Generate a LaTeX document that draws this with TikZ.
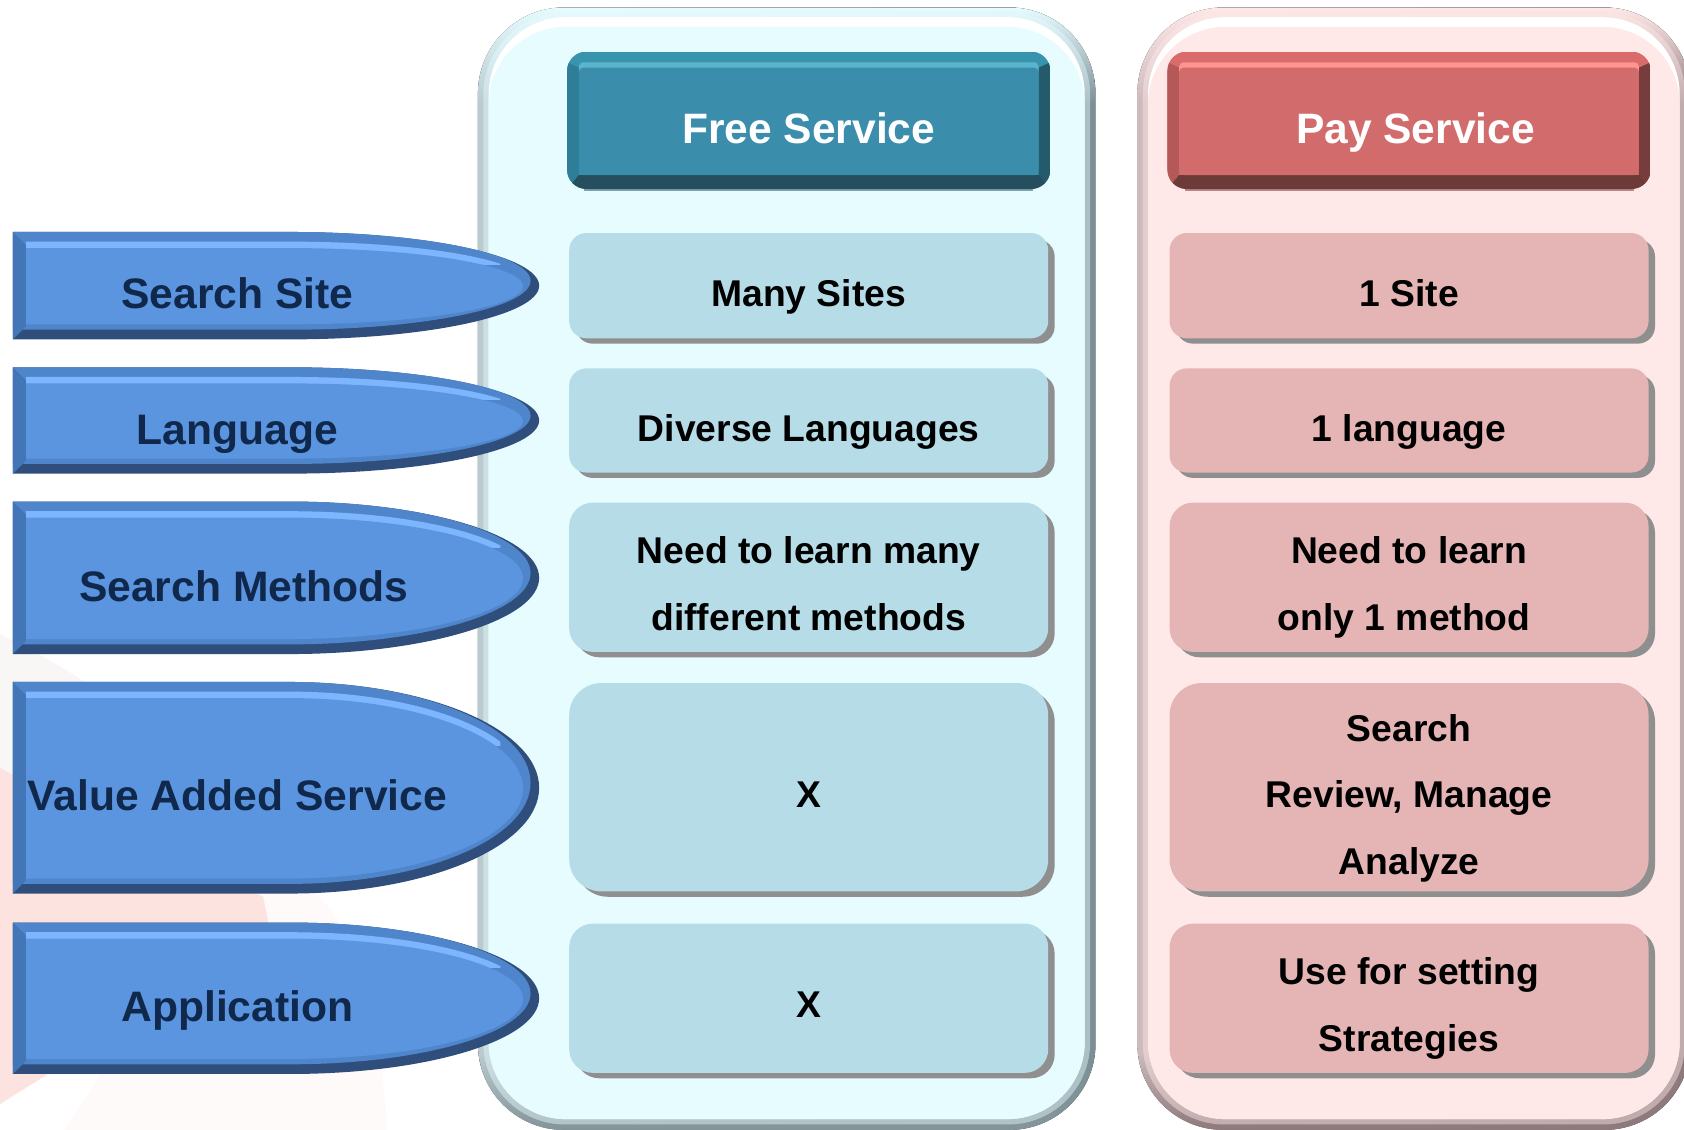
\documentclass[tikz,border=0pt]{standalone}
\usepackage{fontspec}
\setmainfont{Liberation Sans}
\usetikzlibrary{fadings}
\definecolor{bluebase}{HTML}{5B94DF}
\definecolor{bluehi}{HTML}{7DB6FF}
\definecolor{bluetop}{HTML}{4F86CB}
\definecolor{bluelow}{HTML}{2F4E7C}
\definecolor{blueleft}{HTML}{4376B6}
\definecolor{bluetext}{HTML}{10284C}
\definecolor{freefill}{HTML}{E6FCFF}
\definecolor{payfill}{HTML}{FFE8E8}
\definecolor{freerow}{HTML}{B6DCE7}
\definecolor{payrow}{HTML}{E5B5B5}
\definecolor{rowshadow}{HTML}{8F8F8F}
\definecolor{fl}{HTML}{B9CBD0}\definecolor{fr}{HTML}{7A8F96}\definecolor{fb}{HTML}{84959A}
\definecolor{pl}{HTML}{CDBABC}\definecolor{pr}{HTML}{8E7A7C}\definecolor{pb}{HTML}{8E7A7C}
\definecolor{ftop}{HTML}{3794AC}\definecolor{fhi}{HTML}{5AB4CC}\definecolor{fmain}{HTML}{3A8DAB}
\definecolor{fleft}{HTML}{2F7E98}\definecolor{fright}{HTML}{235A6C}\definecolor{flow}{HTML}{254F5E}\definecolor{fsh}{HTML}{7FA3AD}
\definecolor{ptop}{HTML}{D96B6B}\definecolor{phi}{HTML}{FF9490}\definecolor{pmain}{HTML}{D26C6C}
\definecolor{pleft}{HTML}{B55858}\definecolor{pright}{HTML}{773C3C}\definecolor{plow}{HTML}{6D3A3A}\definecolor{psh}{HTML}{B88888}
\definecolor{bgfaint}{HTML}{FDFAF9}
\definecolor{bggrey}{HTML}{F9F6F6}
\definecolor{bgpink}{HTML}{FCE3E0}
\tikzset{
  headtext/.style={font=\bfseries\fontsize{19.8}{24}\selectfont,text=white,text height=14pt,text depth=4pt,inner sep=0pt},
  rowtext/.style={font=\bfseries\fontsize{17.35}{31}\selectfont,text=black,align=center,text height=13pt,text depth=4pt,inner sep=0pt},
  tabtext/.style={font=\bfseries\fontsize{19.85}{24}\selectfont,text=bluetext,text height=14pt,text depth=4pt,inner sep=0pt},
}
% panel: x0 y0 x1 y1, edge left, edge right, edge top, edge bottom, fill
\newcommand{\panelbox}[9]{%
  \fill[left color=#5,right color=#6,rounded corners=40pt] (#1,#2) rectangle (#3,#4);
  \begin{scope}
    \clip[rounded corners=40pt] (#1,#2) rectangle (#3,#4);
    \fill[#7,path fading=south] (#1,#2) rectangle (#3,{#2+90});
    \fill[#8,path fading=north] (#1,{#4-70}) rectangle (#3,#4);
  \end{scope}
  \fill[#9,opacity=.45,rounded corners=38pt] ({#1+5},{#2+5}) rectangle ({#3-5},{#4-5});
  \fill[white,rounded corners=36pt] ({#1+10},{#2+9}) rectangle ({#3-10},{#4-10});
  \fill[#9,rounded corners=36pt] ({#1+10},{#2+18}) rectangle ({#3-10},{#4-10});
}
% header: x0, top, hi, main, left, right, low, shadow
\newcommand{\headbox}[8]{%
  \fill[#8] ({#1+16},170) rectangle ({#1+434},178);
  \begin{scope}
    \clip[rounded corners=9pt] (#1,48) rectangle ({#1+450},176);
    \fill[#2] (#1,48) rectangle ({#1+450},176);
    \fill[#5] (#1,58) -- ({#1+11},63) -- ({#1+11},164) -- (#1,176) -- cycle;
    \fill[#6] ({#1+450},58) -- ({#1+439},63) -- ({#1+439},164) -- ({#1+450},176) -- cycle;
    \fill[#7] (#1,176) -- ({#1+11},163) -- ({#1+439},163) -- ({#1+450},176) -- cycle;
    \fill[#3,rounded corners=2pt] ({#1+11},58) rectangle ({#1+439},70);
    \fill[#4,rounded corners=2pt] ({#1+11},63) rectangle ({#1+439},163);
  \end{scope}
}
% row: x0 y0 x1 y1 fill radius
\newcommand{\rowbox}[6]{%
  \fill[rowshadow,rounded corners=#6] ({#1+6},{#2+6}) rectangle ({#3+6},{#4+5});
  \fill[#5,rounded corners=#6] (#1,#2) rectangle (#3,#4);
}
\newcommand{\tabpath}[4]{% x0 y0 y1 rightx
  (#1,#2) -- (270,#2) arc[start angle=-90,end angle=90,x radius={#4-270},y radius={((#3)-(#2))/2}] -- (#1,#3) -- cycle}
\newcommand{\bluetab}[2]{%
  \fill[bluelow] \tabpath{12}{#1}{#2}{502};
  \fill[bluetop] \tabpath{12}{#1}{#2-9}{494};
  \begin{scope}
    \clip (12,#1) rectangle (466,{#1+0.3*(#2-#1)});
    \fill[bluehi] \tabpath{24}{#1+9}{#2-14}{491};
  \end{scope}
  \fill[bluebase] \tabpath{24}{#1+15}{#2-14}{487};
  \fill[blueleft] (12,#1) -- (24,{#1+12}) -- (24,{#2-12}) -- (12,#2) -- cycle;
}
\begin{document}
\begin{tikzpicture}[x=0.5pt,y=-0.5pt]
\useasboundingbox (0,0) rectangle (1568,1052);
\clip (0,0) rectangle (1568,1052);
\fill[white] (0,0) rectangle (1568,1052);
% faint background swirl
\fill[bggrey] (0,590) .. controls (60,620) and (120,660) .. (170,700) -- (0,730) -- cycle;
\fill[bgfaint] (200,810) .. controls (300,800) and (350,860) .. (360,1052) -- (60,1052) -- (160,900) -- cycle;
\fill[bgpink] (0,715) .. controls (80,760) and (170,800) .. (245,835) -- (250,859) -- (40,1003) -- (0,1028) -- cycle;

\panelbox{445}{7}{1020}{1052}{fl}{fr}{freefill}{fb}{freefill}
\panelbox{1059}{7}{1574}{1052}{pl}{pr}{payfill}{pb}{payfill}

\headbox{528}{ftop}{fhi}{fmain}{fleft}{fright}{flow}{fsh}
\headbox{1087}{ptop}{phi}{pmain}{pleft}{pright}{plow}{psh}
\node[headtext] (free) at (753,124) {Free Service};
\node[headtext] (pay) at (1318,124) {Pay Service};

\bluetab{216}{316}
\bluetab{342}{441}
\bluetab{467}{609}
\bluetab{635}{832}
\bluetab{859}{1000}
\node[tabtext] (t1) at (221,277) {Search Site};
\node[tabtext] (t2) at (221,404) {Language};
\node[tabtext] (t3) at (227,550) {Search Methods};
\node[tabtext] (t4) at (221,745) {Value Added Service};
\node[tabtext] (t5) at (221,941) {Application};

\rowbox{530}{217}{976}{315}{freerow}{8pt}
\rowbox{530}{343}{976}{440}{freerow}{8pt}
\rowbox{530}{468}{976}{607}{freerow}{11pt}
\rowbox{530}{636}{976}{830}{freerow}{15pt}
\rowbox{530}{860}{976}{999}{freerow}{11pt}
\rowbox{1089}{217}{1535}{315}{payrow}{8pt}
\rowbox{1089}{343}{1535}{440}{payrow}{8pt}
\rowbox{1089}{468}{1535}{607}{payrow}{11pt}
\rowbox{1089}{636}{1535}{830}{payrow}{15pt}
\rowbox{1089}{860}{1535}{999}{payrow}{11pt}

\node[rowtext] (f1) at (753,276) {Many Sites};
\node[rowtext] (f2) at (753,402) {Diverse Languages};
\node[rowtext] (f3) at (753,578) {Need to learn many\\different methods};
\node[rowtext] (f4) at (753,743) {X};
\node[rowtext] (f5) at (753,938) {X};
\node[rowtext] (p1) at (1312,276) {1 Site};
\node[rowtext] (p2) at (1312,402) {1 language};
\node[rowtext] (p3) at (1312,578) {Need to learn\\only 1 method\hspace*{4.5pt}\null};
\node[rowtext] (p4) at (1312,805) {Search\\Review, Manage\\Analyze};
\node[rowtext] (p5) at (1312,970) {Use for setting\\Strategies};
\end{tikzpicture}
\end{document}
